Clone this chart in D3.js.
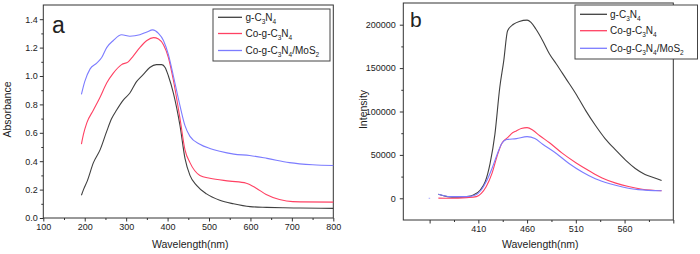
<!DOCTYPE html>
<html>
<head>
<meta charset="utf-8">
<script src="https://cdn.jsdelivr.net/npm/d3@7"></script>
<style>
  body { margin: 0; background: #fff; }
  text { font-family: "Liberation Sans", Arial, sans-serif; fill: #222; }
</style>
</head>
<body>
<script>
// panel a : absorbance
const absBlackWl = [192,197,206,221,237,253,265,277,293,309,325,341,357,373,386,394,402,414,430,442,454,470,494,526,559,599,639,680,720,800];
const absBlack   = [0.16,0.2,0.26,0.39,0.48,0.61,0.70,0.76,0.83,0.88,0.96,1.01,1.06,1.08,1.08,1.06,1.0,0.88,0.65,0.42,0.30,0.23,0.17,0.125,0.10,0.08,0.075,0.072,0.07,0.068];
const absRedWl = [192,197,205,221,237,253,269,289,305,317,333,350,366,378,390,402,414,430,442,454,478,502,550,590,614,638,670,702,800];
const absRed   = [0.52,0.59,0.67,0.76,0.85,0.95,1.02,1.08,1.10,1.14,1.20,1.25,1.27,1.26,1.22,1.13,0.97,0.70,0.48,0.39,0.30,0.28,0.26,0.245,0.21,0.165,0.13,0.115,0.112];
const absBlueWl = [192,200,213,229,241,253,269,289,309,333,350,364,378,390,402,414,430,442,454,478,502,526,560,598,640,694,750,800];
const absBlue   = [0.87,0.96,1.05,1.09,1.13,1.20,1.25,1.29,1.28,1.29,1.31,1.325,1.30,1.25,1.15,1.0,0.79,0.65,0.575,0.52,0.49,0.47,0.45,0.44,0.42,0.39,0.375,0.37];

// panel b : PL intensity
const plBlackWl = [369,378,388,398,405,412,417,422,427,432,436,440,446,452,460,464,469,476,483,490,500,510,520,530,540,551,561,571,581,591,598];
const plBlack   = [4600,1900,1200,1900,3800,9600,19000,40000,74000,128000,158000,193000,200500,203800,205300,202600,195000,181600,166300,154800,137600,120400,101300,84100,68800,55400,44000,34400,27500,23500,20500];
const plRedWl = [369,381,398,408,413,418,424,429,434,439,441,444,449,454,460,466,473,483,496,510,524,537,551,564,578,598];
const plRed   = [200,0,800,1900,5700,13400,28700,47800,63100,69000,71000,74500,77600,80300,81400,78400,72000,64000,52000,41000,31500,23500,17500,13500,10500,8700];
const plBlueWl = [369,381,398,407,413,418,424,429,434,439,449,460,468,476,490,503,517,530,544,558,574,598];
const plBlue   = [4600,1900,1900,3800,9600,19000,34400,49700,63100,67700,68800,71000,68800,62300,51600,40100,30000,22500,17000,13000,10000,8700];
const plBlueDotsWl = [359,362];
const plBlueDots   = [0,0];

const seriesNames = [["g-C","3","N","4"], ["Co-g-C","3","N","4"], ["Co-g-C","3","N","4","/MoS","2"]];
const colors = ["#404040", "#ff4163", "#7c7cff"];

const svg = d3.select("body").append("svg")
    .attr("width", 700).attr("height", 254);

function drawPanel(cfg) {
    const g = svg.append("g");
    const x = d3.scaleLinear().domain(cfg.xDomain).range(cfg.xRange);
    const y = d3.scaleLinear().domain(cfg.yDomain).range(cfg.yRange);

    // minor ticks
    g.append("g").attr("transform", `translate(0,${cfg.yRange[0]})`)
        .call(d3.axisBottom(x).tickValues(cfg.xMinor).tickSize(2).tickFormat(""))
        .call(a => a.select(".domain").remove());
    g.append("g").attr("transform", `translate(${cfg.xRange[0]},0)`)
        .call(d3.axisLeft(y).tickValues(cfg.yMinor).tickSize(2).tickFormat(""))
        .call(a => a.select(".domain").remove());

    // major ticks
    const xa = g.append("g").attr("transform", `translate(0,${cfg.yRange[0]})`)
        .call(d3.axisBottom(x).tickValues(cfg.xMajor).tickSize(3.5).tickPadding(2)
            .tickFormat(cfg.xFormat));
    xa.select(".domain").remove();
    const ya = g.append("g").attr("transform", `translate(${cfg.xRange[0]},0)`)
        .call(d3.axisLeft(y).tickValues(cfg.yMajor).tickSize(3.5).tickPadding(cfg.yPad)
            .tickFormat(cfg.yFormat));
    ya.select(".domain").remove();
    g.selectAll(".tick line").attr("stroke", "#333");
    g.selectAll(".tick text").style("font-family", "Liberation Sans, Arial, sans-serif")
        .style("font-size", "9px").attr("fill", "#222");

    // frame
    g.append("rect")
        .attr("x", cfg.xRange[0]).attr("y", cfg.yRange[1])
        .attr("width", cfg.xRange[1] - cfg.xRange[0])
        .attr("height", cfg.yRange[0] - cfg.yRange[1])
        .attr("fill", "none").attr("stroke", "#333").attr("stroke-width", 1);

    // curves
    const line = d3.line().x(d => x(d[0])).y(d => y(d[1])).curve(d3.curveMonotoneX);
    cfg.series.forEach((s, i) => {
        g.append("path")
            .datum(s.wl.map((w, k) => [w, s.v[k]]))
            .attr("d", line)
            .attr("fill", "none")
            .attr("stroke", s.color)
            .attr("stroke-width", 1.1)
            .attr("stroke-dasharray", s.dash || null)
            .attr("opacity", s.opacity || 1);
    });

    // panel letter
    g.append("text").attr("x", cfg.letterX).attr("y", cfg.letterY)
        .style("font-size", cfg.letterSize + "px").text(cfg.letter);

    // axis titles
    g.append("text")
        .attr("x", (cfg.xRange[0] + cfg.xRange[1]) / 2 + 2).attr("y", 248)
        .attr("text-anchor", "middle").style("font-size", "10.5px")
        .text("Wavelength(nm)");
    g.append("text")
        .attr("transform", `translate(${cfg.yTitleX},${(cfg.yRange[0] + cfg.yRange[1]) / 2 - 2}) rotate(-90)`)
        .attr("text-anchor", "middle").style("font-size", "10.5px")
        .text(cfg.yTitle);

    // legend
    const L = cfg.legend;
    g.append("rect").attr("x", L.x).attr("y", L.y).attr("width", L.w).attr("height", L.h)
        .attr("fill", "#fff").attr("stroke", "#444").attr("stroke-width", 1);
    seriesNames.forEach((parts, i) => {
        const yy = L.rows[i];
        g.append("line").attr("x1", L.lx1).attr("x2", L.lx2).attr("y1", yy).attr("y2", yy)
            .attr("stroke", colors[i]).attr("stroke-width", 1.3);
        const t = g.append("text").attr("x", L.tx).attr("y", yy + 3.7).style("font-size", "10px");
        parts.forEach((p, k) => {
            const sub = k % 2 === 1;
            t.append("tspan").text(p)
                .attr("dy", sub ? 2.5 : (k === 0 ? 0 : -2.5))
                .style("font-size", sub ? "6.5px" : "10px");
        });
    });
}

drawPanel({
    xDomain: [100, 800], xRange: [43.3, 333.3],
    yDomain: [0, 1.5], yRange: [218, 5],
    xMajor: d3.range(100, 801, 100), xMinor: d3.range(150, 800, 100),
    yMajor: d3.range(0, 1.41, 0.2), yMinor: d3.range(0.1, 1.5, 0.2),
    xFormat: d3.format("d"), yFormat: d3.format(".1f"), yPad: 2,
    series: [
        {wl: absBlackWl, v: absBlack, color: colors[0]},
        {wl: absRedWl, v: absRed, color: colors[1]},
        {wl: absBlueWl, v: absBlue, color: colors[2]}
    ],
    letter: "a", letterX: 52, letterY: 33, letterSize: 23,
    yTitle: "Absorbance", yTitleX: 11,
    legend: {x: 213, y: 9, w: 117, h: 52, rows: [17.3, 33.5, 50.5], lx1: 218, lx2: 242, tx: 245.5}
});

drawPanel({
    xDomain: [333, 610], xRange: [403.3, 673.3],
    yDomain: [-25000, 225000], yRange: [220, 3],
    xMajor: d3.range(360, 611, 50), xMinor: d3.range(385, 600, 50),
    yMajor: d3.range(0, 200001, 50000), yMinor: d3.range(25000, 225000, 50000),
    xFormat: d => (d >= 410 && d <= 560) ? d : "", yFormat: d3.format("d"), yPad: 4,
    series: [
        {wl: plBlackWl, v: plBlack, color: colors[0]},
        {wl: plRedWl, v: plRed, color: colors[1]},
        {wl: plBlueWl, v: plBlue, color: colors[2]},
        {wl: plBlueDotsWl, v: plBlueDots, color: colors[2], dash: "1.5,2", opacity: 0.6}
    ],
    letter: "b", letterX: 410, letterY: 27, letterSize: 21,
    yTitle: "Intensity", yTitleX: 367,
    legend: {x: 575, y: 5, w: 122.5, h: 54, rows: [14.3, 30.7, 48.3], lx1: 580, lx2: 607, tx: 610}
});
</script>
</body>
</html>
